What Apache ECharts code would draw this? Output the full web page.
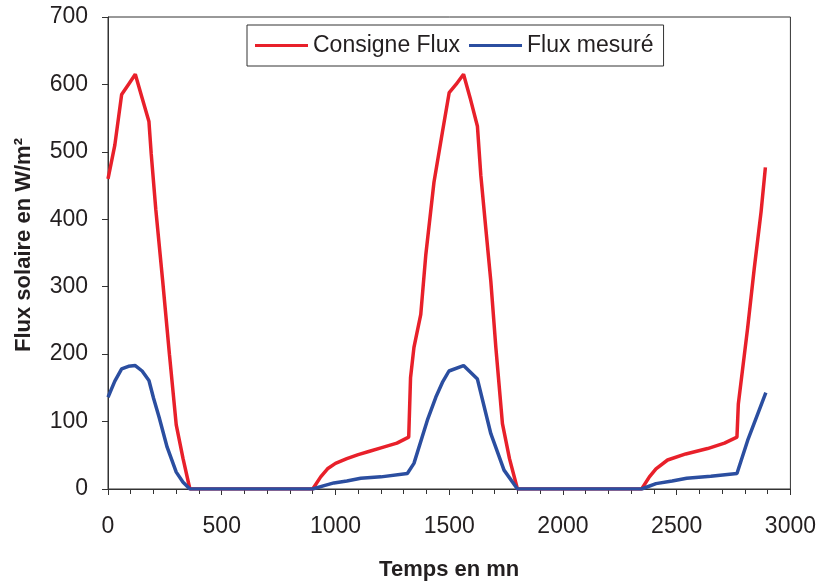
<!DOCTYPE html>
<html>
<head>
<meta charset="utf-8">
<script src="https://cdn.jsdelivr.net/npm/echarts@6/dist/echarts.min.js"></script>
<style>
html,body{margin:0;padding:0;background:#fff;}
#chart{width:819px;height:586px;}
</style>
</head>
<body>
<div id="chart"></div>
<script>
// Time (min) and flux values (W/m²)
const consigneTime = [0,30,60,90,120,150,180,190,210,240,270,300,330,360,
  900,935,965,1000,1050,1100,1150,1200,1270,1322,1330,1345,1375,1397,1433,1470,1500,1530,1563,1592,1624,1639,1661,1683,1705,1734,1765,1800,
  2346,2380,2409,2460,2540,2636,2710,2765,2771,2812,2841,2871,2890];
const consigneFlux = [460,510,585,600,615,580,545,497,415,310,200,95,45,0,
  0,18,30,38,45,51,56,61,68,77,165,210,259,347,455,529,588,600,615,580,538,465,386,308,210,97,45,0,
  0,18,30,43,52,60,68,77,126,239,327,411,477];

const mesureTime = [0,30,60,90,120,150,180,200,225,260,300,330,360,
  900,950,993,1050,1111,1200,1316,1345,1404,1441,1470,1499,1563,1624,1683,1741,1800,
  2346,2409,2480,2544,2650,2765,2812,2856,2892];
const mesureFlux = [136,160,178,182,183,175,161,135,106,62,25,10,0,
  0,5,9,12,16,18,23,38,102,136,158,175,183,163,82,28,0,
  0,8,12,16,19,23,72,111,143];

const seriesNames = ['Consigne Flux', 'Flux mesuré'];
const xTitle = 'Temps en mn';
const yTitle = 'Flux solaire en W/m²';

const pairs = (t, v) => t.map((x, i) => [x, v[i]]);
const font = '"Liberation Sans", Arial, sans-serif';
const txt = '#231f20';

const chart = echarts.init(document.getElementById('chart'));
chart.setOption({
  animation: false,
  backgroundColor: '#fff',
  grid: { left: 108, right: 28, top: 17, bottom: 94, show: true, borderColor: '#333', borderWidth: 1 },
  legend: {
    left: 247, top: 25,
    padding: [9, 10, 9, 8],
    borderColor: '#333', borderWidth: 1,
    itemWidth: 53, itemHeight: 3, itemGap: 9,
    icon: 'rect',
    textStyle: { fontFamily: font, fontSize: 23, color: txt },
    data: seriesNames
  },
  xAxis: {
    type: 'value', min: 0, max: 3000, interval: 500,
    name: xTitle, nameLocation: 'middle', nameGap: 70,
    nameTextStyle: { fontFamily: font, fontSize: 22, fontWeight: 'bold', color: txt },
    axisLine: { show: true, lineStyle: { color: '#333', width: 1 } },
    axisTick: { show: true, inside: false, length: 6, lineStyle: { color: '#333' } },
    minorTick: { show: true, splitNumber: 5, length: 5, lineStyle: { color: '#333' } },
    axisLabel: { fontFamily: font, fontSize: 23, color: txt, margin: 26, formatter: v => String(v) },
    splitLine: { show: false }
  },
  yAxis: {
    type: 'value', min: 0, max: 700, interval: 100,
    name: yTitle, nameLocation: 'middle', nameGap: 73, nameRotate: 90,
    nameTextStyle: { fontFamily: font, fontSize: 22, fontWeight: 'bold', color: txt, padding: [0, 0, 0, 16] },
    axisLine: { show: true, lineStyle: { color: '#333', width: 1 } },
    axisTick: { show: true, inside: false, length: 6, lineStyle: { color: '#333' } },
    axisLabel: { fontFamily: font, fontSize: 23, color: txt, margin: 20, formatter: v => String(v) },
    splitLine: { show: false }
  },
  series: [
    {
      name: seriesNames[0], type: 'line', data: pairs(consigneTime, consigneFlux),
      showSymbol: false, symbol: 'none',
      lineStyle: { color: '#e8202a', width: 3.5 }, itemStyle: { color: '#e8202a' }, z: 2
    },
    {
      name: seriesNames[1], type: 'line', data: pairs(mesureTime, mesureFlux),
      showSymbol: false, symbol: 'none',
      lineStyle: { color: '#2b4ea0', width: 3.5 }, itemStyle: { color: '#2b4ea0' }, z: 3
    }
  ]
});
</script>
</body>
</html>
